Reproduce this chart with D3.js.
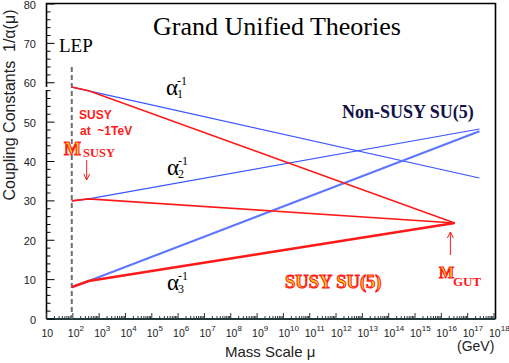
<!DOCTYPE html>
<html>
<head>
<meta charset="utf-8">
<script src="https://cdn.jsdelivr.net/npm/d3@7"></script>
<style>
  body { margin: 0; background: #fff; }
  svg { display: block; }
  .serif { font-family: "Liberation Serif", "DejaVu Serif", serif; }
  .sans { font-family: "Liberation Sans", Arial, sans-serif; }
</style>
</head>
<body>
<div id="chart"></div>
<script>
// energy scale points (GeV): M_Z, M_SUSY, end of curve
const smScale = [91.2, 400, 2.8e17];
const susyScale = [91.2, 400, 3.2e16];

// inverse couplings, Standard Model (non-SUSY SU(5))
const smA1 = [58.9, 57.95, 35.8];
const smA2 = [30.0, 30.5, 48.25];
const smA3 = [8.1, 9.65, 47.7];

// inverse couplings, SUSY SU(5)
const susyA1 = [58.9, 57.95, 24.4];
const susyA2 = [30.0, 30.5, 24.4];
const susyA3 = [8.1, 9.65, 24.4];

const lepScale = 91.2;
const lepTop = 64;
const gutArrow = 2.2e16;
const yTicks = [0, 10, 20, 30, 40, 50, 60, 70, 80];
const xPowers = d3.range(1, 19);

const width = 509, height = 363;
const x = d3.scaleLog().domain([10, 1e18]).range([46.5, 494]);
const y = d3.scaleLinear().domain([0, 80]).range([319, 4]);

const svg = d3.select('#chart').append('svg')
  .attr('width', width)
  .attr('height', height);

// frame
const fLeft = x.range()[0], fRight = 495.5, fTop = y(80) - 0.5, fBottom = y(0);
svg.append('path')
  .attr('d', `M${fLeft},${fBottom}V90M${fLeft},87V${fTop}H${fRight}V${fBottom}`)
  .attr('fill', 'none').attr('stroke', '#000').attr('stroke-width', 1.6);
svg.append('line')
  .attr('x1', fLeft).attr('x2', fRight).attr('y1', fBottom).attr('y2', fBottom)
  .attr('stroke', '#1f3b3b').attr('stroke-width', 2);

// y ticks
const yMinor = d3.range(0, 81, 2);
svg.append('g').selectAll('line').data(yMinor).join('line')
  .attr('x1', fLeft).attr('x2', d => fLeft + (d % 10 === 0 ? 8 : 4))
  .attr('y1', d => y(d)).attr('y2', d => y(d))
  .attr('stroke', '#000').attr('stroke-width', 1);
svg.append('g').selectAll('text').data(yTicks).join('text')
  .attr('class', 'sans')
  .attr('x', 36).attr('y', d => y(d) + 4.5)
  .attr('text-anchor', 'end').attr('font-size', 11).attr('fill', '#222')
  .text(d => d);

// x ticks
const xMinor = [];
xPowers.forEach(p => {
  for (let k = 1; k < 10; k++) {
    const v = k * Math.pow(10, p);
    if (v <= 1e18) xMinor.push({ v, major: k === 1 });
  }
});
svg.append('g').selectAll('line').data(xMinor).join('line')
  .attr('x1', d => x(d.v)).attr('x2', d => x(d.v))
  .attr('y1', fBottom).attr('y2', d => fBottom - (d.major ? 6 : 3))
  .attr('stroke', '#333').attr('stroke-width', 1);

const xl = svg.append('g').selectAll('text').data(xPowers).join('text')
  .attr('class', 'sans')
  .attr('x', d => x(Math.pow(10, d)) - 5).attr('y', 337)
  .attr('font-size', 10.5).attr('fill', '#222');
xl.append('tspan').text('10');
xl.append('tspan').attr('dy', -6).attr('font-size', 8)
  .text(d => d === 1 ? '' : d);

svg.append('text').attr('class', 'sans')
  .attr('x', 225).attr('y', 357).attr('font-size', 15).attr('fill', '#222')
  .text('Mass Scale μ');
svg.append('text').attr('class', 'sans')
  .attr('x', 457).attr('y', 351).attr('font-size', 14).attr('fill', '#222')
  .text('(GeV)');

svg.append('text').attr('class', 'sans')
  .attr('transform', 'translate(15,105) rotate(-90)')
  .attr('text-anchor', 'middle').attr('font-size', 16).attr('fill', '#222')
  .style('white-space', 'pre')
  .text('Coupling Constants  1/α(μ)');

// LEP
svg.append('line')
  .attr('x1', x(lepScale)).attr('x2', x(lepScale))
  .attr('y1', y(lepTop)).attr('y2', fBottom)
  .attr('stroke', '#707070').attr('stroke-width', 2)
  .attr('stroke-dasharray', '5,3');
svg.append('text').attr('class', 'serif')
  .attr('x', 59).attr('y', 52).attr('font-size', 19).text('LEP');

// curves
const line = d3.line().x(d => x(d[0])).y(d => y(d[1]));
const blue = '#3a55ff', red = '#ff1a1a';
[[smA1, 1.2, blue], [smA2, 1.2, blue], [smA3, 2.2, '#5f76ff']].forEach(([vals, w, c]) => {
  svg.append('path')
    .datum(d3.zip(smScale, vals))
    .attr('d', line).attr('fill', 'none')
    .attr('stroke', c).attr('stroke-width', w);
});
[[susyA1, 1.5], [susyA2, 1.6], [susyA3, 2.6]].forEach(([vals, w]) => {
  svg.append('path')
    .datum(d3.zip(susyScale, vals))
    .attr('d', line).attr('fill', 'none')
    .attr('stroke', red).attr('stroke-width', w);
});

// title
svg.append('text').attr('class', 'serif')
  .attr('x', 153).attr('y', 35).attr('font-size', 26)
  .text('Grand Unified Theories');

// alpha labels
function alpha(px, py, sub) {
  const t = svg.append('text').attr('class', 'serif').attr('x', px).attr('y', py);
  t.append('tspan').attr('font-size', 23).text('α');
  t.append('tspan').attr('font-size', 12).attr('dx', -1).attr('dy', 3).text(sub);
  svg.append('text').attr('class', 'serif')
    .attr('x', px + 11).attr('y', py - 10).attr('font-size', 12).text('-1');
}
alpha(166, 95, '1');
alpha(167, 175, '2');
alpha(167, 290, '3');

svg.append('text').attr('class', 'serif')
  .attr('x', 342).attr('y', 118).attr('font-size', 18).attr('font-weight', 'bold')
  .attr('fill', '#12124a').text('Non-SUSY SU(5)');

// SUSY labels
function glow(sel) {
  return sel.attr('fill', '#ffd21a').attr('stroke', '#ff1a1a')
    .attr('stroke-width', 1).attr('font-weight', 'bold');
}
glow(svg.append('text').attr('class', 'serif')
  .attr('x', 285).attr('y', 288).attr('font-size', 18.5)).text('SUSY SU(5)');

svg.append('text').attr('class', 'sans')
  .attr('x', 79).attr('y', 119).attr('font-size', 12).attr('font-weight', 'bold')
  .attr('fill', red).text('SUSY');
svg.append('text').attr('class', 'sans')
  .attr('x', 80).attr('y', 135).attr('font-size', 12).attr('font-weight', 'bold')
  .attr('fill', red).style('white-space', 'pre').text('at  ~1TeV');

glow(svg.append('text').attr('class', 'serif')
  .attr('x', 64).attr('y', 155).attr('font-size', 18)).text('M');
svg.append('text').attr('class', 'serif')
  .attr('x', 83).attr('y', 157).attr('font-size', 12.5).attr('font-weight', 'bold')
  .attr('fill', red).text('SUSY');

glow(svg.append('text').attr('class', 'serif')
  .attr('x', 439).attr('y', 278).attr('font-size', 16)).text('M');
svg.append('text').attr('class', 'serif')
  .attr('x', 453).attr('y', 286).attr('font-size', 13).attr('font-weight', 'bold')
  .attr('fill', red).text('GUT');

// arrows
function arrow(px, y0, y1) {
  const dir = y1 > y0 ? 1 : -1;
  svg.append('path')
    .attr('d', `M${px},${y0}V${y1}M${px - 3},${y1 - dir * 6}L${px},${y1}L${px + 3},${y1 - dir * 6}`)
    .attr('fill', 'none').attr('stroke', red).attr('stroke-width', 1);
}
arrow(x(susyScale[1]) - 2, 160, 180);
arrow(x(gutArrow), 255, 232);
</script>
</body>
</html>
